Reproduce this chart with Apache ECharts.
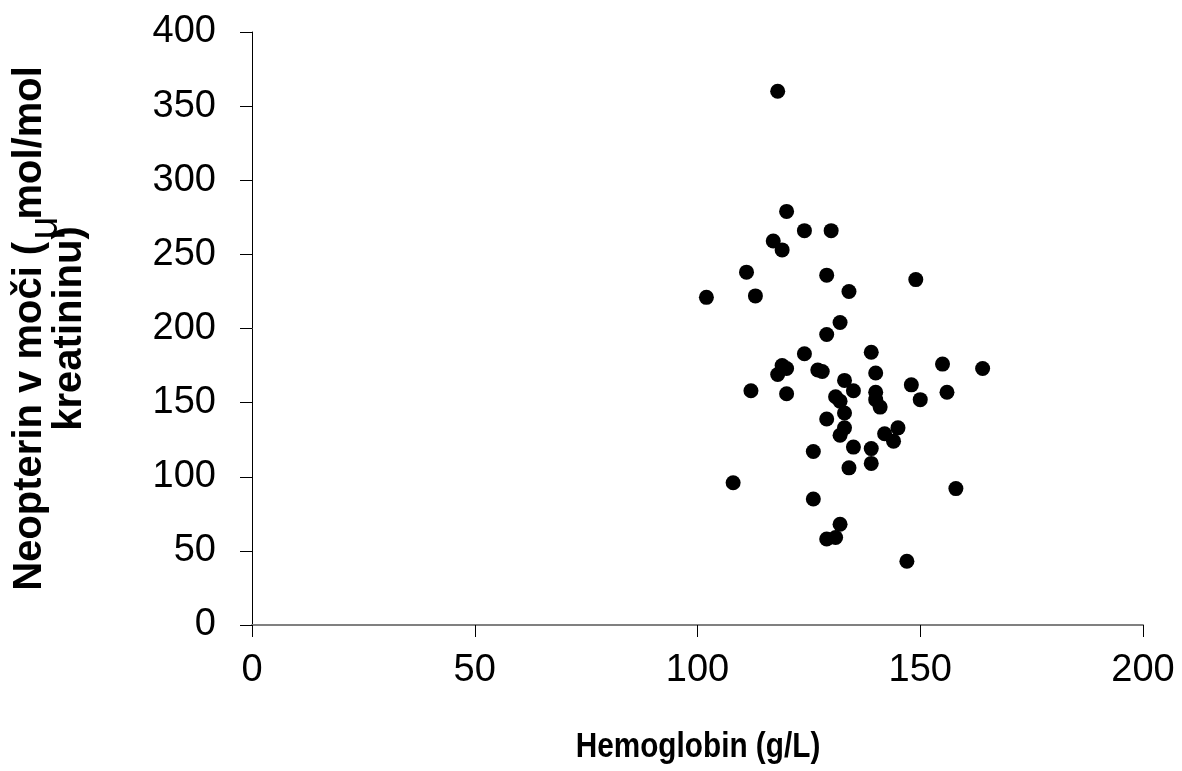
<!DOCTYPE html>
<html>
<head>
<meta charset="utf-8">
<script src="https://cdn.jsdelivr.net/npm/echarts@6/dist/echarts.min.js"></script>
<style>
html,body{margin:0;padding:0;background:#fff;}
#chart{width:1182px;height:771px;}
</style>
</head>
<body>
<div id="chart"></div>
<script>
const hemoglobin = [118,120,124,130,117,119,111,129,149,134,102,113,132,129,124,139,155,164,119,120,118,127,128,140,133,135,140,140,141,131,132,133,129,133,132,145,142,144,139,135,112,120,148,156,150,126,139,134,108,158,126,132,129,131,147];
const neopterin  = [360,279,266,266,259,253,238,236,233,225,221,222,204,196,183,184,176,173,175,173,169,172,171,170,165,158,157,152,147,154,151,143,139,133,128,133,129,124,119,120,158,156,162,157,152,117,109,106,96,92,85,68,58,59,43];
const xTicks = [0,50,100,150,200];
const yTicks = [0,50,100,150,200,250,300,350,400];
const xName = 'Hemoglobin (g/L)';
const yName = 'Neopterin v moči (  mol/mol\nkreatininu)';
const muSymbol = 'μ';

const points = hemoglobin.map((h, i) => [h, neopterin[i]]);
const font = '"Liberation Sans", Arial, sans-serif';

const chart = echarts.init(document.getElementById('chart'));
chart.setOption({
  animation: false,
  backgroundColor: '#ffffff',
  grid: {left: 252, right: 39, top: 32, bottom: 146, containLabel: false, outerBoundsMode: 'none'},
  xAxis: {
    type: 'value', min: xTicks[0], max: xTicks[xTicks.length-1], interval: 50,
    axisLine: {show: true, lineStyle: {color: '#808080', width: 2}},
    axisTick: {show: true, inside: false, length: 12, lineStyle: {color: '#000', width: 1}},
    axisLabel: {fontFamily: font, fontSize: 38, color: '#000', margin: 27},
    splitLine: {show: false}
  },
  yAxis: {
    type: 'value', min: yTicks[0], max: yTicks[yTicks.length-1], interval: 50,
    name: yName, nameLocation: 'middle', nameGap: 162, nameRotate: 90,
    nameTextStyle: {fontFamily: font, fontSize: 40, fontWeight: 'bold', color: '#000', lineHeight: 40, align: 'center'},
    axisLine: {show: true, lineStyle: {color: '#000', width: 1}},
    axisTick: {show: true, inside: false, length: 12, lineStyle: {color: '#000', width: 1}},
    axisLabel: {fontFamily: font, fontSize: 38, color: '#000', margin: 36},
    splitLine: {show: false}
  },
  graphic: [{
    type: 'text', x: 46, y: 228, rotation: Math.PI/2,
    style: {text: muSymbol, fontFamily: font, fontSize: 40, fill: '#000', align: 'center', verticalAlign: 'middle'}
  }, {
    type: 'text', x: 698, y: 747, scaleX: 0.85,
    style: {text: xName, fontFamily: font, fontSize: 35, fontWeight: 'bold', fill: '#000', align: 'center', verticalAlign: 'middle'}
  }],
  series: [{
    type: 'scatter', data: points, symbol: 'circle', symbolSize: 15,
    itemStyle: {color: '#000', opacity: 1}
  }]
});
</script>
</body>
</html>
